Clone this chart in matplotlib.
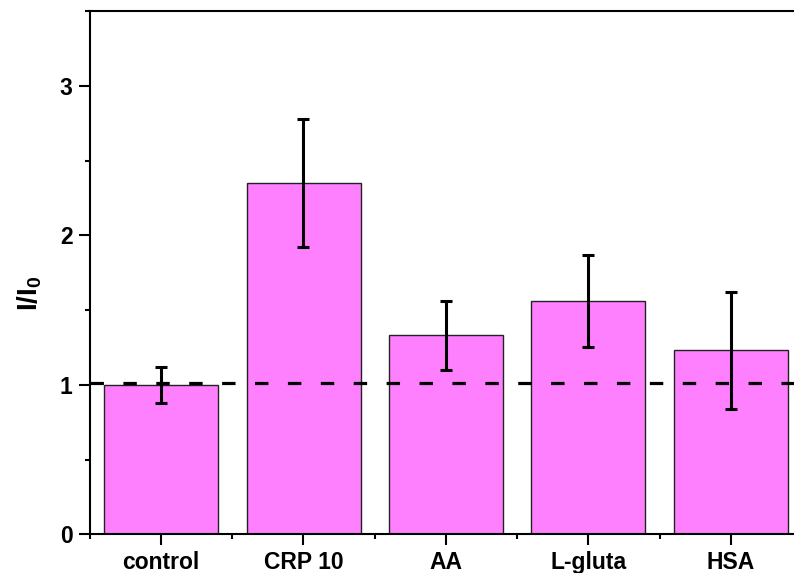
import numpy as np
import matplotlib
matplotlib.use("Agg")
import matplotlib.pyplot as plt
from matplotlib.ticker import MultipleLocator

plt.rcParams['font.family'] = ['Liberation Sans', 'DejaVu Sans']
plt.rcParams['font.weight'] = 'bold'
plt.rcParams['mathtext.fontset'] = 'custom'
plt.rcParams['mathtext.rm'] = 'Liberation Sans:bold'
plt.rcParams['mathtext.it'] = 'Liberation Sans:bold'
plt.rcParams['mathtext.bf'] = 'Liberation Sans:bold'

# data
categories = ['control', 'CRP 10', 'AA', 'L-gluta', 'HSA']
ratio = [1.00, 2.35, 1.33, 1.56, 1.23]
ratio_err = [0.12, 0.43, 0.23, 0.31, 0.39]
baseline = 1.015

fig = plt.figure(figsize=(7.94, 5.73), dpi=100)
ax = fig.add_axes([89.75 / 794, 1 - 534.3 / 573, 712.5 / 794, (534.3 - 11) / 573])

x = np.arange(1, len(categories) + 1)
ax.bar(x, ratio, width=0.8, color='#FF80FF', edgecolor='#222222', linewidth=1.0, zorder=2)
ax.errorbar(x, ratio, yerr=ratio_err, fmt='none', ecolor='black',
            elinewidth=2.2, capsize=4.5, capthick=2.2, zorder=4)
ax.axhline(baseline, color='black', linestyle=(0, (4.2, 6.1)), linewidth=2.3, zorder=3)

ax.set_xlim(0.5, 5.5)
ax.set_ylim(0, 3.5)
ax.set_xticks(x)
ax.set_xticklabels(categories)
ax.xaxis.set_minor_locator(MultipleLocator(1.0, offset=0.5))
ax.set_yticks([0, 1, 2, 3])
ax.yaxis.set_minor_locator(MultipleLocator(0.5))

ax.tick_params(axis='both', which='major', direction='out', length=7.8, width=1.5,
               labelsize=16.5)
ax.tick_params(axis='both', which='minor', direction='out', length=3.8, width=1.5)
ax.tick_params(axis='y', which='major', pad=4.5)
ax.tick_params(axis='x', which='major', pad=4.5)

for side in ['left', 'bottom', 'top', 'right']:
    ax.spines[side].set_linewidth(1.5)

# y label placed by hand, a bit below the axis middle as in the original
fig.text(30 / 794, 1 - 293 / 573, r'I/I$_0$', fontsize=20, rotation=90,
         ha='center', va='center')

fig.savefig('out.png', dpi=100)
